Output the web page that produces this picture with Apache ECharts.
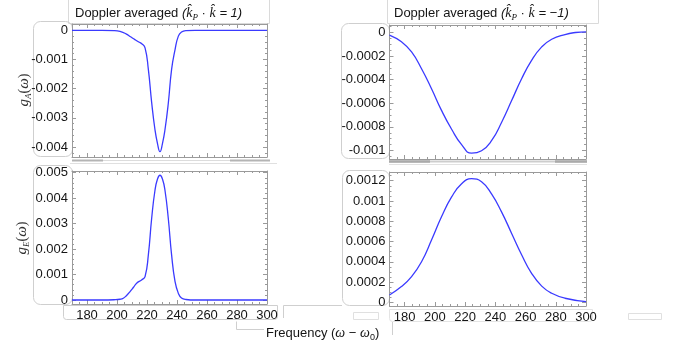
<!DOCTYPE html>
<html>
<head>
<meta charset="utf-8">
<script src="https://cdn.jsdelivr.net/npm/echarts@6/dist/echarts.min.js"></script>
<style>
html,body{margin:0;padding:0;background:#fff;}
#chart{width:683px;height:348px;}
</style>
</head>
<body>
<div id="chart"></div>
<script>
// ---------------- data ----------------
// frequency (omega - omega0) and values
var gA_p1 = [[170,0],[190,0],[198,-0.00001],[202,-0.00004],[206,-0.00012],[209,-0.00022],[212,-0.00032],[214.5,-0.0004],[216.5,-0.00046],[218.7,-0.0006],[220.9,-0.00134],[223.1,-0.00247],[225.3,-0.0034],[227,-0.00388],[228.65,-0.00416],[230.3,-0.00388],[232,-0.0034],[234.2,-0.0025],[236.4,-0.00134],[238.7,-0.00066],[240.9,-0.0002],[243,-0.00006],[246,-0.00001],[252,0],[270,0],[300,0]];
var gA_m1 = [[170,-0.000022],[177.9,-0.000079],[184.6,-0.000165],[191.2,-0.000307],[197.8,-0.000477],[204.4,-0.00066],[211.1,-0.00082],[217.7,-0.00095],[224.3,-0.001023],[230.9,-0.001002],[237.5,-0.000917],[244.2,-0.00076],[250.8,-0.000577],[257.4,-0.000392],[264,-0.000236],[270.7,-0.000122],[277.3,-0.000057],[286.1,-0.000017],[293,0],[300,0.000006]];
var gE_p1 = [[170,0],[190,0],[198,0.00001],[202,0.00003],[204.2,0.00007],[206.4,0.00018],[208.7,0.00033],[211,0.0005],[213.1,0.00066],[216.4,0.00079],[218.7,0.00092],[220.9,0.00177],[223.1,0.0032],[225.3,0.0043],[227,0.00475],[228.65,0.0049],[230.3,0.00475],[232,0.0043],[234.2,0.0032],[236.4,0.00177],[238.7,0.00072],[240.9,0.00026],[243,0.00008],[246,0.00002],[252,0],[270,0],[300,0]];
var gE_m1 = [[170,0.000072],[177.9,0.000155],[184.6,0.000253],[191.2,0.0004],[197.8,0.000614],[204.4,0.000844],[211.1,0.00104],[217.7,0.00117],[224.3,0.00122],[230.9,0.00119],[237.5,0.00107],[244.2,0.00089],[250.8,0.00068],[257.4,0.00047],[264,0.000286],[270.7,0.00016],[277.3,0.000089],[286.1,0.00004],[300,0.000007]];

// tick labels
var xTickLabels = [180,200,220,240,260,280,300];
var yTicksA1 = [0,-0.001,-0.002,-0.003,-0.004];
var yTicksA2 = [0,-0.0002,-0.0004,-0.0006,-0.0008,-0.001];
var yTicksE1 = [0,0.001,0.002,0.003,0.004,0.005];
var yTicksE2 = [0,0.0002,0.0004,0.0006,0.0008,0.001,0.0012];

// ---------------- layout / style ----------------
var FRAME = '#9a9a9a';
var TXT = '#151515';
var LINE = '#3a3aff';
var SANS = 'Liberation Sans, Arial, sans-serif';
var SERIF = 'Liberation Serif, DejaVu Serif, serif';

function steps(a, b, step) {
  var out = [];
  for (var k = Math.ceil(a / step - 1e-9); k * step <= b + 1e-12; k++) {
    out.push(+(k * step).toPrecision(10));
  }
  return out;
}
function fmt(v) { return String(+(+v).toPrecision(6)); }

var panels = [
  {grid:{left:72, top:24, width:195, height:133}, ymin:-0.004342, ymax:0.000216, yMajor:yTicksA1, yMinorStep:0.0002, xLabels:false, data:gA_p1},
  {grid:{left:389.5, top:25, width:196.5, height:134}, ymin:-0.001072, ymax:0.0000636, yMajor:yTicksA2, yMinorStep:0.00005, xLabels:false, data:gA_m1},
  {grid:{left:72, top:171, width:195, height:133}, ymin:-0.000157, ymax:0.005067, yMajor:yTicksE1, yMinorStep:0.0002, xLabels:true, data:gE_p1},
  {grid:{left:389.5, top:172, width:196.5, height:134}, ymin:-0.0000365, ymax:0.001286, yMajor:yTicksE2, yMinorStep:0.00005, xLabels:true, data:gE_m1}
];

var XMIN = 170, XMAX = 300;
var xMinor = steps(XMIN, XMAX, 5);

var grids = [], xAxes = [], yAxes = [], series = [];
panels.forEach(function (p, gi) {
  grids.push(Object.assign({containLabel:false}, p.grid));
  var yMinor = steps(p.ymin, p.ymax, p.yMinorStep);
  ['bottom','top'].forEach(function (pos) {
    xAxes.push({
      gridIndex: gi, type:'value', min:XMIN, max:XMAX, position:pos,
      axisLine:{show:true, onZero:false, lineStyle:{color:FRAME, width:1}},
      axisTick:{show:true, inside:true, length:4, customValues:xTickLabels, lineStyle:{color:FRAME}},
      axisLabel:{show: pos==='bottom' && p.xLabels, customValues:xTickLabels, margin:5,
                 color:TXT, fontFamily:SANS, fontSize:13},
      splitLine:{show:false}
    });
    xAxes.push({
      gridIndex: gi, type:'value', min:XMIN, max:XMAX, position:pos,
      axisLine:{show:false, onZero:false},
      axisTick:{show:true, inside:true, length:2, customValues:xMinor, lineStyle:{color:FRAME}},
      axisLabel:{show:false}, splitLine:{show:false}
    });
  });
  ['left','right'].forEach(function (pos) {
    yAxes.push({
      gridIndex: gi, type:'value', min:p.ymin, max:p.ymax, position:pos,
      axisLine:{show:true, onZero:false, lineStyle:{color:FRAME, width:1}},
      axisTick:{show:true, inside:true, length:4, customValues:p.yMajor, lineStyle:{color:FRAME}},
      axisLabel:{show: pos==='left', customValues:p.yMajor, margin:4, formatter:fmt,
                 color:TXT, fontFamily:SANS, fontSize:13},
      splitLine:{show:false}
    });
    yAxes.push({
      gridIndex: gi, type:'value', min:p.ymin, max:p.ymax, position:pos,
      axisLine:{show:false, onZero:false},
      axisTick:{show:true, inside:true, length:2, customValues:yMinor, lineStyle:{color:FRAME}},
      axisLabel:{show:false}, splitLine:{show:false}
    });
  });
  series.push({
    type:'line', xAxisIndex: gi*4, yAxisIndex: gi*4, data:p.data,
    smooth:0.5, showSymbol:false, symbol:'none', animation:false,
    lineStyle:{color:LINE, width:1.3}, z:5
  });
});

var BOX = '#d2d2d2';
var titleRich = {
  n:{fontFamily:SANS, fontSize:13, fill:TXT, lineHeight:18},
  i:{fontFamily:SANS, fontSize:13, fontStyle:'italic', fill:TXT, lineHeight:18},
  k:{fontFamily:SERIF, fontSize:14, fontStyle:'italic', fill:TXT, lineHeight:18},
  s:{fontFamily:SERIF, fontSize:9, fontStyle:'italic', fill:TXT, lineHeight:11, verticalAlign:'bottom'}
};
var nameRich = {
  g:{fontFamily:SERIF, fontSize:15, fontStyle:'italic', fill:'#333', lineHeight:18},
  s:{fontFamily:SERIF, fontSize:9, fontStyle:'italic', fill:'#333', lineHeight:11, verticalAlign:'bottom'},
  p:{fontFamily:SERIF, fontSize:14, fill:'#333', lineHeight:18}
};
var freqRich = {
  n:{fontFamily:SANS, fontSize:13, fill:TXT, lineHeight:18},
  w:{fontFamily:SERIF, fontSize:14, fontStyle:'italic', fill:TXT, lineHeight:18},
  s:{fontFamily:SANS, fontSize:9, fill:TXT, lineHeight:11, verticalAlign:'bottom'}
};

function rectG(x,y,w,h,r,col){ return {type:'rect', z:-10, silent:true, shape:{x:x,y:y,width:w,height:h,r:r||0}, style:{fill:'none', stroke:col||BOX, lineWidth:1}}; }
function lineG(x1,y1,x2,y2,col,w){ return {type:'line', z:-10, silent:true, shape:{x1:x1,y1:y1,x2:x2,y2:y2}, style:{stroke:col||BOX, lineWidth:w||1}}; }

var graphics = [
  // title boxes
  rectG(68.5,-1,201,24.5,0,'#dadada'),
  rectG(387.5,-1,211,24.5,0,'#dadada'),
  // y label boxes
  rectG(33.5,21.5,39,135,7,'#cfcfcf'),
  rectG(33.5,165.5,39,139,7,'#cfcfcf'),
  rectG(341.5,23.5,48,135,7,'#cfcfcf'),
  rectG(342.5,170.5,47,135,7,'#cfcfcf'),
  // x label boxes
  rectG(63.5,305.5,214,14,[0,0,3,3],'#cfcfcf'),
  rectG(389.5,309.5,203,12,[0,0,3,3],'#e4e4e4'),
  // separators between panels
  lineG(72,160.5,270,160.5,'#dcdcdc',1),
  lineG(72,160.5,103,160.5,'#b4b4b4',2),
  lineG(230,160.5,270,160.5,'#b4b4b4',2),
  lineG(70,163.5,277,163.5,'#e0e0e0',1),
  lineG(389,161.5,587,161.5,'#cdcdcd',2),
  lineG(389,161.5,430,161.5,'#aaaaaa',2.5),
  lineG(555,161.5,587,161.5,'#aaaaaa',2.5),
  lineG(389,164.5,587,164.5,'#e2e2e2',1),
  // stray connector lines
  lineG(283.5,305.5,342,305.5,'#cfcfcf',1),
  lineG(283.5,305.5,283.5,318,'#cfcfcf',1),
  {type:'polyline', z:-10, silent:true, shape:{points:[[236.5,321.5],[236.5,329.5],[264,329.5]]}, style:{fill:'none', stroke:'#cfcfcf', lineWidth:1}},
  lineG(392.5,322,392.5,335,'#cfcfcf',1),
  rectG(353.5,312.5,25,7,0,'#e0e0e0'),
  rectG(628.5,313.5,33,6,0,'#e0e0e0'),
  // titles
  {type:'text', z:10, x:75, y:13, style:{text:'{n|Doppler averaged }{i|(}{k|k\u0302}{s|P}{n| \u00b7 }{k|k\u0302}{i| = 1)}', rich:titleRich, verticalAlign:'middle', align:'left'}},
  {type:'text', z:10, x:394, y:13, style:{text:'{n|Doppler averaged }{i|(}{k|k\u0302}{s|P}{n| \u00b7 }{k|k\u0302}{i| = \u22121)}', rich:titleRich, verticalAlign:'middle', align:'left'}},
  // y axis names
  {type:'text', z:10, x:24, y:90, rotation:Math.PI/2, style:{text:'{g|g}{s|A}{p|(}{g|\u03c9}{p|)}', rich:nameRich, align:'center', verticalAlign:'middle'}},
  {type:'text', z:10, x:22, y:238, rotation:Math.PI/2, style:{text:'{g|g}{s|E}{p|(}{g|\u03c9}{p|)}', rich:nameRich, align:'center', verticalAlign:'middle'}},
  // x axis name
  {type:'text', z:10, x:266, y:333, style:{text:'{n|Frequency (}{w|\u03c9}{n| \u2212 }{w|\u03c9}{s|0}{n|)}', rich:freqRich, align:'left', verticalAlign:'middle'}}
];

var chart = echarts.init(document.getElementById('chart'), null, {renderer:'canvas'});
chart.setOption({
  animation:false,
  backgroundColor:'#ffffff',
  grid: grids,
  xAxis: xAxes,
  yAxis: yAxes,
  series: series,
  graphic: graphics
});
</script>
</body>
</html>
